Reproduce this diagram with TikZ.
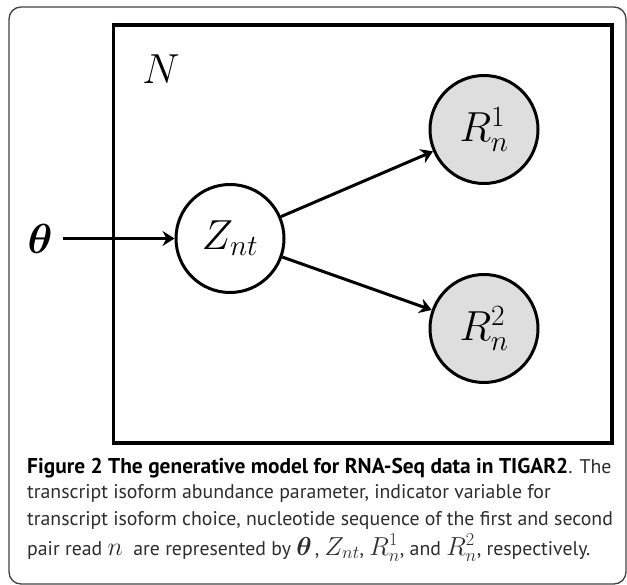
\RequirePackage{fix-cm}
\documentclass[tikz,border=0pt]{standalone}
\usepackage{amsmath,amsfonts,bm}
\usepackage{fontspec}
\setsansfont{PT Sans}
\usepackage{xcolor}
\usetikzlibrary{arrows.meta,positioning}

\definecolor{obsgray}{RGB}{222,222,222}
\definecolor{capgray}{RGB}{45,45,45}
\newcommand{\capm}[1]{{\fontsize{26}{28}\selectfont$#1$}}

\begin{document}
\begin{tikzpicture}[
    x=1pt, y=-1pt,
    font=\fontsize{42}{50}\selectfont,
    latent/.style={draw, circle, line width=3pt, minimum size=108pt, inner sep=0pt, fill=white},
    observed/.style={latent, fill=obsgray},
    plate/.style={draw, line width=3.3pt},
    frame/.style={draw=black!75, line width=1.3pt, rounded corners=12pt},
    arr/.style={-{Stealth[length=12pt, width=15pt, inset=4pt]}, line width=3pt},
    capline/.style={anchor=base west, inner sep=0pt, font=\sffamily\fontsize{19.8}{25}\selectfont, text=capgray}
]
\useasboundingbox (0,0) rectangle (627,585);
\draw[frame] (9,7) rectangle (626,584);
\draw[plate] (113.5,25) rectangle (612,443);

\node (plateN) at (161,69) {$N$};
\node[latent] (z) at (230,238.5) {$Z_{nt}$};
\node[observed] (r1) at (484,129.5) {$R_n^1$};
\node[observed] (r2) at (484,328.5) {$R_n^2$};
\node[inner sep=0pt] (theta) at (40,238.5) {$\boldsymbol{\theta}$};
\draw[arr, shorten <=10pt] (theta.east) -- (z.west);
\draw[arr] (z) -- (r1);
\draw[arr] (z) -- (r2);

\node[capline] (cap1) at (27,474) {\textcolor{black}{\fontsize{21.4}{25}\selectfont\textbf{Figure 2 The generative model for RNA-Seq data in TIGAR2}}. The};
\node[capline] (cap2) at (27,498.5) {transcript isoform abundance parameter, indicator variable for};
\node[capline] (cap3) at (27,525) {transcript isoform choice, nucleotide sequence of the first and second};
\node[capline] (cap4) at (27,555) {pair read \capm{n}\ \ are represented by \capm{\boldsymbol{\theta}}\,, \capm{Z_{nt}}, \capm{R_n^1}, and \capm{R_n^2}, respectively.};
\end{tikzpicture}
\end{document}
